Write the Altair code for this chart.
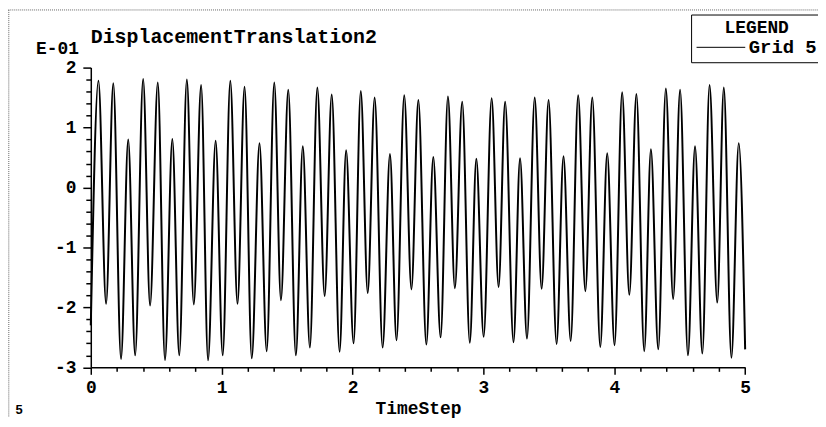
import altair as alt
import pandas as pd

# Time values of the sampled extrema (TimeStep)
times = [0.000, 0.0585, 0.117, 0.172, 0.231, 0.286, 0.339, 0.400, 0.453, 0.512,
         0.567, 0.623, 0.676, 0.734, 0.787, 0.843, 0.896, 0.954, 1.008, 1.066,
         1.121, 1.175, 1.230, 1.289, 1.344, 1.402, 1.453, 1.509, 1.567, 1.620,
         1.674, 1.731, 1.787, 1.841, 1.901, 1.951, 2.008, 2.063, 2.116, 2.169,
         2.230, 2.286, 2.336, 2.395, 2.450, 2.503, 2.564, 2.617, 2.673, 2.729,
         2.782, 2.838, 2.896, 2.946, 3.002, 3.063, 3.116, 3.166, 3.230, 3.280,
         3.333, 3.392, 3.445, 3.498, 3.559, 3.612, 3.667, 3.724, 3.779, 3.832,
         3.893, 3.946, 4.002, 4.060, 4.115, 4.169, 4.229, 4.280, 4.336, 4.394,
         4.450, 4.503, 4.563, 4.617, 4.673, 4.728, 4.787, 4.837, 4.895, 4.951,
         5.000]
# Displacement (units of E-01)
values = [-2.30, 1.78, -1.94, 1.74, -2.86, 0.80, -2.80, 1.81, -1.97, 1.75,
          -2.88, 0.81, -2.80, 1.80, -1.95, 1.71, -2.88, 0.78, -2.80, 1.78,
          -1.94, 1.68, -2.85, 0.74, -2.73, 1.75, -1.88, 1.63, -2.80, 0.69,
          -2.67, 1.67, -1.81, 1.55, -2.74, 0.62, -2.60, 1.61, -1.76, 1.50,
          -2.67, 0.56, -2.55, 1.54, -1.70, 1.46, -2.62, 0.51, -2.50, 1.52,
          -1.68, 1.43, -2.59, 0.48, -2.49, 1.49, -1.66, 1.43, -2.58, 0.49,
          -2.52, 1.50, -1.69, 1.46, -2.61, 0.52, -2.56, 1.54, -1.73, 1.50,
          -2.66, 0.57, -2.63, 1.59, -1.79, 1.56, -2.73, 0.64, -2.70, 1.65,
          -1.86, 1.63, -2.80, 0.69, -2.77, 1.71, -1.92, 1.67, -2.84, 0.74,
          -2.70]
series_name = "Grid 5"
chart_title = "DisplacementTranslation2"
corner_label = "5"

x_ticks = [0, 0.2, 0.4, 0.6, 0.8, 1, 1.2, 1.4, 1.6, 1.8, 2, 2.2, 2.4, 2.6, 2.8,
           3, 3.2, 3.4, 3.6, 3.8, 4, 4.2, 4.4, 4.6, 4.8, 5]
y_ticks = [-3, -2.8, -2.6, -2.4, -2.2, -2, -1.8, -1.6, -1.4, -1.2, -1, -0.8,
           -0.6, -0.4, -0.2, 0, 0.2, 0.4, 0.6, 0.8, 1, 1.2, 1.4, 1.6, 1.8, 2]

FONT = "Liberation Mono"

df = pd.DataFrame({"t": times, "v": values, "s": [series_name] * len(times)})

is_int = "abs(datum.value - round(datum.value)) < 0.001"
common_axis = dict(
    domainColor="black", domainWidth=1.5, tickColor="black", tickWidth=1.5,
    labelFont=FONT, labelFontSize=18, labelFontWeight="bold", labelColor="black",
    titleFont=FONT, titleFontSize=18, titleFontWeight="bold", titleColor="black",
    grid=False, labelExpr=f"{is_int} ? '' + round(datum.value) : ''",
    labelOverlap=False, labelFlush=False,
)

line = alt.Chart(df).mark_line(
    color="black", strokeWidth=2, interpolate="monotone"
).encode(
    x=alt.X("t:Q", scale=alt.Scale(domain=[0, 5], nice=False, zero=False),
            axis=alt.Axis(values=x_ticks, title="TimeStep",
                          tickSize={"condition": {"test": is_int, "value": 7}, "value": 4},
                          labelPadding=4, titleY=46, titleBaseline="alphabetic",
                          **common_axis)),
    y=alt.Y("v:Q", scale=alt.Scale(domain=[-3, 2], nice=False, zero=False),
            axis=alt.Axis(values=y_ticks, title="E-01", titleAngle=0,
                          titleAlign="center", titleX=-34, titleY=-14,
                          titleBaseline="alphabetic",
                          tickSize={"condition": {"test": is_int, "value": 8}, "value": 5},
                          labelPadding=7, **common_axis)),
    color=alt.Color("s:N", scale=alt.Scale(range=["black"]),
                    legend=alt.Legend(
                        title="LEGEND", orient="none", legendX=604, legendY=-53.4,
                        titleFont=FONT, titleFontSize=18, titleFontWeight="bold",
                        titleColor="black", titleAnchor="middle", titleAlign="center",
                        labelFont=FONT, labelFontSize=19, labelFontWeight="bold",
                        labelColor="black", labelOffset=3,
                        symbolType="stroke", symbolSize=2400, symbolStrokeWidth=1,
                        strokeColor="black", padding=5, titlePadding=-15,
                    )),
)

frame_df = pd.DataFrame({"k": [0]})
frame_top = alt.Chart(frame_df).mark_rule(
    color="#666", strokeWidth=1, strokeDash=[1, 1]
).encode(x=alt.value(-83), x2=alt.value(735), y=alt.value(-58))
frame_left = alt.Chart(frame_df).mark_rule(
    color="#666", strokeWidth=1, strokeDash=[1, 1]
).encode(x=alt.value(-82.5), y=alt.value(-58), y2=alt.value(352))

title_df = pd.DataFrame({"label": [chart_title]})
title_mark = alt.Chart(title_df).mark_text(
    font=FONT, fontSize=20, fontWeight="bold", color="black",
    align="left", baseline="alphabetic"
).encode(x=alt.value(0), y=alt.value(-25), text="label:N")

corner_df = pd.DataFrame({"label": [corner_label]})
corner = alt.Chart(corner_df).mark_text(
    font=FONT, fontSize=13, fontWeight="bold", color="black",
    align="left", baseline="alphabetic"
).encode(x=alt.value(-76), y=alt.value(349), text="label:N")

chart = alt.layer(line, frame_top, frame_left, title_mark, corner).properties(
    width=658.4, height=301.6,
    autosize=alt.AutoSizeParams(type="none"),
    padding={"left": 83.3, "top": 58.7, "right": 73.3, "bottom": 49.7},
).configure_view(strokeWidth=0)

chart.save("out.html", embed_options={"renderer": "svg", "actions": False})
